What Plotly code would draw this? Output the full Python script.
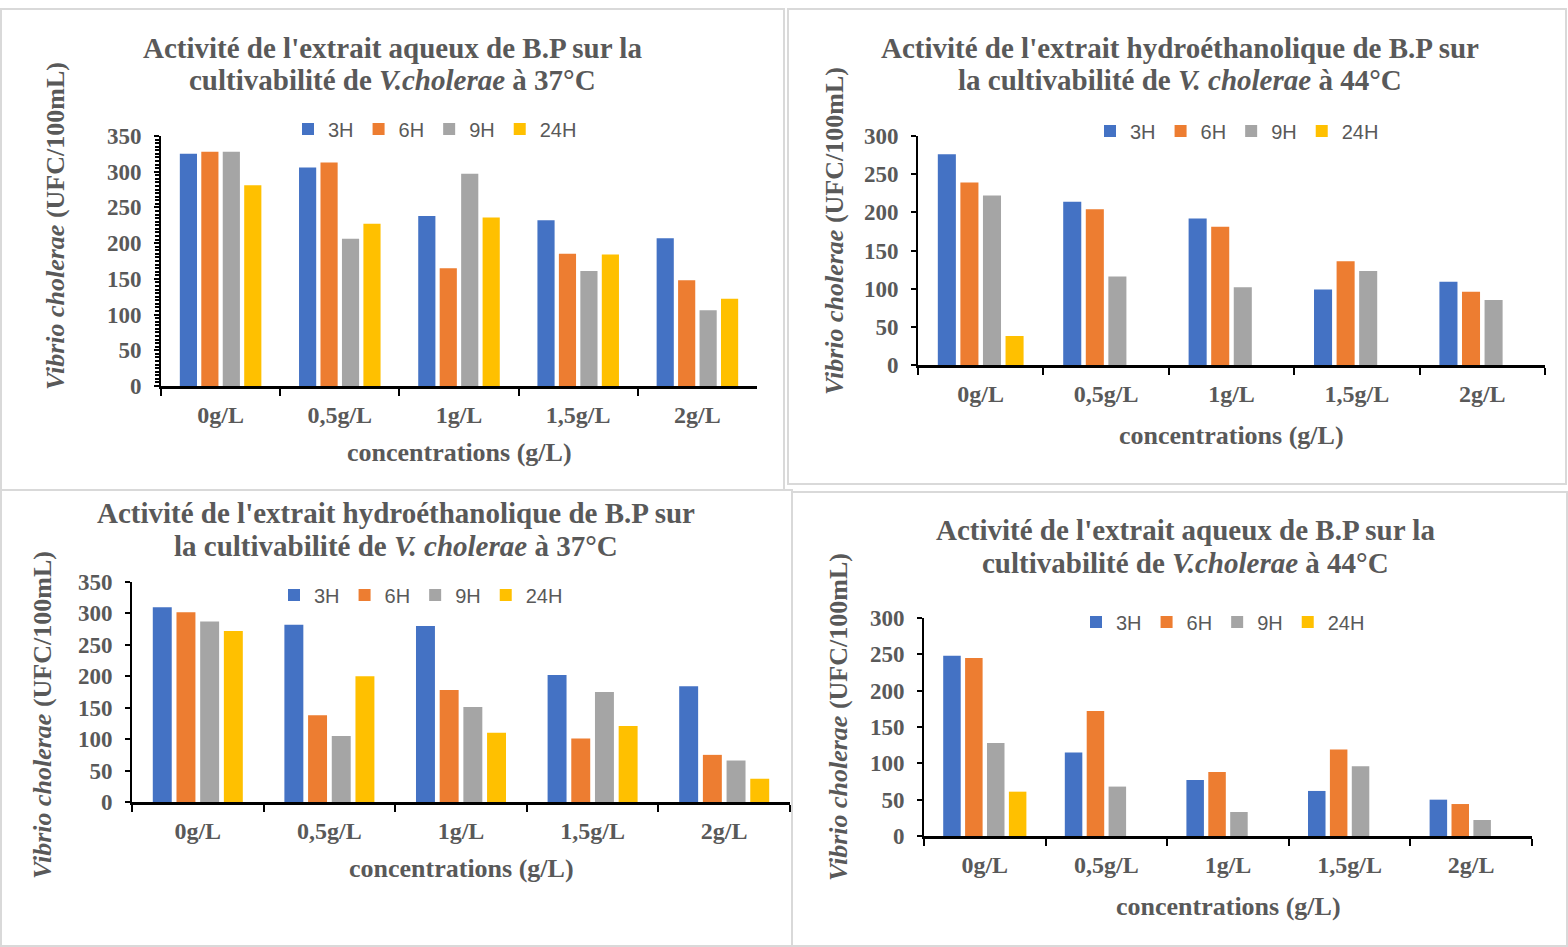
import plotly.graph_objects as go

W, H = 1568, 947

categories = ["0g/L", "0,5g/L", "1g/L", "1,5g/L", "2g/L"]
series_names = ["3H", "6H", "9H", "24H"]
colors = ["#4472C4", "#ED7D31", "#A5A5A5", "#FFC000"]

# Panel 1: aqueous extract, 37°C
aq37_3h = [325, 306, 238, 232, 207]
aq37_6h = [328, 313, 165, 185, 148]
aq37_9h = [328, 206, 297, 161, 106]
aq37_24h = [281, 227, 236, 184, 122]

# Panel 2: hydroethanolic extract, 44°C
hy44_3h = [276, 214, 192, 99, 109]
hy44_6h = [239, 204, 181, 136, 96]
hy44_9h = [222, 116, 102, 123, 85]
hy44_24h = [38, 0, 0, 0, 0]

# Panel 3: hydroethanolic extract, 37°C
hy37_3h = [310, 282, 280, 202, 184]
hy37_6h = [302, 138, 178, 101, 75]
hy37_9h = [287, 105, 151, 175, 66]
hy37_24h = [272, 200, 110, 121, 37]

# Panel 4: aqueous extract, 44°C
aq44_3h = [248, 115, 77, 62, 50]
aq44_6h = [245, 172, 88, 119, 44]
aq44_9h = [128, 68, 33, 96, 22]
aq44_24h = [61, 0, 0, 0, 0]

titles = [
    ("<b>Activité de l'extrait aqueux de B.P sur la</b>",
     "<b>cultivabilité de <i>V.cholerae</i> à 37°C</b>"),
    ("<b>Activité de l'extrait hydroéthanolique de B.P sur</b>",
     "<b>la cultivabilité de <i>V. cholerae</i> à 44°C</b>"),
    ("<b>Activité de l'extrait hydroéthanolique de B.P sur</b>",
     "<b>la cultivabilité de <i>V. cholerae</i> à 37°C</b>"),
    ("<b>Activité de l'extrait aqueux de B.P sur la</b>",
     "<b>cultivabilité de <i>V.cholerae</i> à 44°C</b>"),
]
ytitle = "<b><i>Vibrio cholerae</i> (UFC/100mL)</b>"
xtitle = "<b>concentrations (g/L)</b>"

# pixel geometry of each panel
panels = [
    dict(data=[aq37_3h, aq37_6h, aq37_9h, aq37_24h], ymax=350, x0=161, x1=757, y0=386, y1=136,
         title=(392, 48, 80), legend=(435, 129), ytit=(55, 226), xtit=(459, 452), minor=True),
    dict(data=[hy44_3h, hy44_6h, hy44_9h, hy44_24h], ymax=300, x0=918, x1=1545, y0=365, y1=136,
         title=(1180, 48, 80), legend=(1237, 131), ytit=(835, 231), xtit=(1231, 436), minor=False),
    dict(data=[hy37_3h, hy37_6h, hy37_9h, hy37_24h], ymax=350, x0=132, x1=790, y0=802, y1=582,
         title=(396, 513, 546), legend=(421, 595), ytit=(42, 715), xtit=(461, 868), minor=False),
    dict(data=[aq44_3h, aq44_6h, aq44_9h, aq44_24h], ymax=300, x0=924, x1=1532, y0=836, y1=618,
         title=(1185, 530, 563), legend=(1223, 622), ytit=(838, 717), xtit=(1228, 906), minor=False),
]

GRAY = "#595959"
SERIF = "Liberation Serif, Times New Roman, serif"
SANS = "Liberation Sans Narrow, Arial Narrow, Liberation Sans, sans-serif"

def px(x):
    return x / W

def py(y):
    return 1 - y / H

fig = go.Figure()
layout = dict(
    width=W, height=H, autosize=False,
    margin=dict(l=0, r=0, t=0, b=0, pad=0, autoexpand=False),
    paper_bgcolor="white", plot_bgcolor="white",
    barmode="group", bargap=0.28, bargroupgap=0.2,
    showlegend=True, annotations=[], shapes=[],
)

for i, p in enumerate(panels):
    k = "" if i == 0 else str(i + 1)
    lg = "legend" + k
    for s, (name, col) in enumerate(zip(series_names, colors)):
        fig.add_trace(go.Bar(
            x=categories, y=p["data"][s], name=name,
            marker=dict(color=col, line=dict(width=0)),
            xaxis="x" + k, yaxis="y" + k, legend=lg,
        ))
    layout["xaxis" + k] = dict(
        domain=[px(p["x0"]), px(p["x1"])], anchor="y" + k, automargin=False,
        type="category", tickson="boundaries", ticks="outside", ticklen=7, tickwidth=2,
        tickcolor="black", showline=True, linecolor="black", linewidth=2.5,
        showgrid=False, ticklabelstandoff=5,
        tickfont=dict(family=SERIF, size=24, color=GRAY, weight="bold"),
    )
    yax = dict(
        domain=[py(p["y0"]), py(p["y1"])], anchor="x" + k, automargin=False,
        range=[0, p["ymax"]], dtick=50, ticks="outside", ticklen=5, tickwidth=2,
        tickcolor="black", showline=True, linecolor="black", linewidth=2,
        showgrid=False, zeroline=False, ticklabelstandoff=8,
        tickfont=dict(family=SERIF, size=23, color=GRAY, weight="bold"),
    )
    if p["minor"]:
        yax["minor"] = dict(dtick=5, ticks="outside", ticklen=4, tickwidth=1.5, tickcolor="black", showgrid=False)
    layout["yaxis" + k] = yax
    layout[lg] = dict(
        orientation="h", x=px(p["legend"][0]), y=py(p["legend"][1]),
        xanchor="center", yanchor="middle", bgcolor="rgba(0,0,0,0)",
        font=dict(family=SANS, size=20, color=GRAY), itemwidth=30, tracegroupgap=0,
    )
    tx, ty1, ty2 = p["title"]
    for line, ty in zip(titles[i], (ty1, ty2)):
        layout["annotations"].append(dict(
            text=line, x=px(tx), y=py(ty), xref="paper", yref="paper",
            showarrow=False, xanchor="center", yanchor="middle",
            font=dict(family=SERIF, size=29, color=GRAY)))
    layout["annotations"] += [
        dict(text=ytitle, x=px(p["ytit"][0]), y=py(p["ytit"][1]), xref="paper", yref="paper",
             showarrow=False, textangle=-90, xanchor="center", yanchor="middle",
             font=dict(family=SERIF, size=26, color=GRAY)),
        dict(text=xtitle, x=px(p["xtit"][0]), y=py(p["xtit"][1]), xref="paper", yref="paper",
             showarrow=False, xanchor="center", yanchor="middle",
             font=dict(family=SERIF, size=26, color=GRAY)),
    ]

boxes = [(1, 9, 784, 490), (788, 9, 1566, 484), (1, 490, 792, 946), (792, 492, 1567, 946)]
for (x0, y0, x1, y1) in boxes:
    layout["shapes"].append(dict(
        type="rect", xref="paper", yref="paper", x0=px(x0), x1=px(x1), y0=py(y0), y1=py(y1),
        line=dict(color="#D9D9D9", width=2), layer="below",
    ))

fig.update_layout(**layout)
fig.write_html("out.html")
